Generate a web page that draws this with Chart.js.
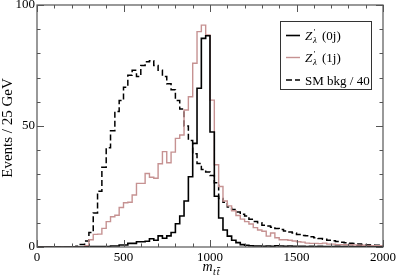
<!DOCTYPE html>
<html><head><meta charset="utf-8">
<script src="https://cdn.jsdelivr.net/npm/chart.js@4/dist/chart.umd.min.js"></script>
<style>html,body{margin:0;padding:0;background:#fff;}#wrap{width:398px;height:278px;position:relative;}</style>
</head><body><div id="wrap"><canvas id="c" width="398" height="278"></canvas></div>
<script>
const binEdges = [0,25,50,75,100,125,150,175,200,225,250,275,300,325,350,375,400,425,450,475,500,525,550,575,600,625,650,675,700,725,750,775,800,825,850,875,900,925,950,975,1000,1025,1050,1075,1100,1125,1150,1175,1200,1225,1250,1275,1300,1325,1350,1375,1400,1425,1450,1475,1500,1525,1550,1575,1600,1625,1650,1675,1700,1725,1750,1775,1800,1825,1850,1875,1900,1925,1950,1975,2000];
const zeroJet = [0,0,0,0,0,0,0,0,0,0,0,0,0.1,0.2,0.2,0.2,0.2,0.2,0.4,0.4,0.8,0.8,1.5,1.5,2.2,2.2,
 2.4,3.4,2.8,4.6,3.6,4.6,6.0,9.6,12.8,19,29,42.8,65.6,86.2,87.3,47.5,21,12,7,4.5,2.8,1.8,1.0,0.7,0.5,
 0.4,0.4,0.3,0.4,0.3,0.5,0.4,0.3,0.4,0.3,
 0.3,0.3,0.2,0.3,0.2,0.3,0.2,0.2,0.2,0.3,0.2,0.2,0.2,0.1,0.2,0.1,0.2,0.1,0.1];
const oneJet = [0,0,0,0,0,0,0,0,0,0,0,0,
 0.5,3,5.2,5.3,7.7,10.5,12.5,13.1,16.3,18.3,18.5,21.5,26.3,26.3,
 30.4,28.8,28.4,34.4,39.4,34.8,39.2,44.9,46.3,56.6,62.1,75.9,89,91.7,87.6,60.7,
 34,25,19,17,15,13,11.5,10.5,9.5,8,7,6.5,4.5,5.8,3.8,3,3,2.8,
 2.5,2.2,2,1.6,1.5,1.5,1.4,1.6,1.2,1.2,1.0,1.0,0.9,0.9,0.8,0.7,0.7,0.6,0.5,0.5];
const smBkg = [0,0,0,0,0,0,0,0,0,0,
 0.3,1.0,2.5,6,14,23,33,41,48,56,60.5,66,71,73,70.5,75,76.5,77,
 75,73,70.5,67.5,65,60.5,57,50,44,38.5,34.5,32,31,29.5,26.5,20,18.5,16.5,15.5,14.5,
 13.5,12.8,11.5,10.5,10,9,8.7,8.2,7.6,7.2,6.6,6.2,5.8,5.2,4.8,4.6,4.2,3.8,3.5,3.2,2.8,2.6,2.3,2.0,1.8,1.6,1.4,1.2,1.0,0.9,0.8,0.7];
const xTicks = [0,500,1000,1500,2000];
const yTicks = [0,50,100];
const seriesTags = ["(0j)", "(1j)", "SM bkg / 40"];
const xTitle = "m";
const yTitle = "Events / 25 GeV";

function toSteps(vals){
  const pts = vals.map((v,i)=>({x:binEdges[i], y:v}));
  pts.push({x:binEdges[vals.length], y:vals[vals.length-1]});
  return pts;
}
const SERIF = "'Liberation Serif','DejaVu Serif',serif";
const PINK = 'rgb(198,146,146)';

const decor = {
  id:'decor',
  afterDatasetsDraw(chart){
    const ctx = chart.ctx, a = chart.chartArea, xs = chart.scales.x, ys = chart.scales.y;
    ctx.save();
    ctx.strokeStyle = '#555'; ctx.lineWidth = 1.2;
    ctx.strokeRect(a.left, a.top, a.right-a.left, a.bottom-a.top);
    ctx.lineWidth = 1; ctx.strokeStyle='#555';
    ctx.beginPath();
    for (let v=0; v<=2000; v+=100){
      const p = Math.round(xs.getPixelForValue(v))+0.5, L = (v%500===0)?7:3.5;
      ctx.moveTo(p,a.bottom); ctx.lineTo(p,a.bottom-L);
      ctx.moveTo(p,a.top); ctx.lineTo(p,a.top+L);
    }
    for (let v=0; v<=100; v+=10){
      const p = Math.round(ys.getPixelForValue(v))+0.5, L = (v%50===0)?7:3.5;
      ctx.moveTo(a.left,p); ctx.lineTo(a.left+L,p);
      ctx.moveTo(a.right,p); ctx.lineTo(a.right-L,p);
    }
    ctx.stroke();
    // legend
    const bx=280.5, by=21.5, bw=91, bh=68;
    ctx.fillStyle='#fff'; ctx.fillRect(bx,by,bw,bh);
    ctx.strokeStyle='#333'; ctx.lineWidth=1; ctx.strokeRect(bx,by,bw,bh);
    const rows=[35.5,57.5,80];
    chart.data.datasets.forEach((ds,i)=>{
      const y=rows[i];
      ctx.strokeStyle=ds.borderColor; ctx.lineWidth=ds.borderWidth;
      ctx.setLineDash(ds.borderDash||[]);
      ctx.beginPath(); ctx.moveTo(286,y); ctx.lineTo(300,y); ctx.stroke();
      ctx.setLineDash([]);
      ctx.fillStyle='#000'; ctx.textBaseline='alphabetic'; ctx.textAlign='left';
      const base=y+4.5;
      if (i<2){
        ctx.font='italic 13px '+SERIF; ctx.fillText('Z',305,base);
        ctx.font='9px '+SERIF; ctx.fillText('\u2032',313.5,base-5);
        ctx.font='italic 9px '+SERIF; ctx.fillText('\u03bb',313,base+3);
        ctx.font='13px '+SERIF; ctx.fillText(seriesTags[i],322,base);
      } else {
        ctx.font='13px '+SERIF; ctx.fillText(seriesTags[i],305,base);
      }
    });
    // y title
    ctx.save();
    ctx.translate(8,128); ctx.rotate(-Math.PI/2);
    ctx.font='15px '+SERIF; ctx.fillStyle='#000'; ctx.textAlign='center'; ctx.textBaseline='middle';
    ctx.fillText(yTitle,0,0);
    ctx.restore();
    // x title m_{t tbar}
    const mx = 202.5, my = 271;
    ctx.fillStyle='#000'; ctx.textAlign='left'; ctx.textBaseline='alphabetic';
    ctx.font='italic 14px '+SERIF; ctx.fillText(xTitle,mx,my);
    const mw = ctx.measureText(xTitle).width;
    ctx.font='italic 10px '+SERIF;
    const tw = ctx.measureText('t').width;
    const sx = mx+mw+0.5, sy = my+4;
    ctx.fillText('t',sx,sy);
    ctx.fillText('t',sx+tw+0.8,sy);
    ctx.strokeStyle='#000'; ctx.lineWidth=0.8;
    ctx.beginPath(); ctx.moveTo(sx+tw+1.2,sy-7.5); ctx.lineTo(sx+2*tw+1.6,sy-7.5); ctx.stroke();
    ctx.restore();
  }
};

new Chart(document.getElementById('c'), {
  type:'line',
  data:{ datasets:[
    {label:'0j', data:toSteps(zeroJet), stepped:'after', borderColor:'#000', borderWidth:1.6, pointRadius:0, fill:false},
    {label:'1j', data:toSteps(oneJet), stepped:'after', borderColor:PINK, borderWidth:1.4, pointRadius:0, fill:false},
    {label:'bkg', data:toSteps(smBkg), stepped:'after', borderColor:'#000', borderWidth:1.5, borderDash:[6,3], pointRadius:0, fill:false}
  ]},
  options:{
    responsive:false, animation:false, devicePixelRatio:1,
    layout:{padding:{left:0,top:5,right:15,bottom:0}},
    plugins:{legend:{display:false}, tooltip:{enabled:false}},
    scales:{
      x:{type:'linear', min:0, max:2000,
        afterBuildTicks(s){ s.ticks = xTicks.map(v=>({value:v})); },
        afterFit(s){ s.height=31; s.paddingLeft=0; s.paddingRight=0; },
        grid:{display:false, drawTicks:false}, border:{display:false},
        ticks:{font:{family:SERIF,size:13}, color:'#000', padding:3, maxRotation:0, autoSkip:false,
          callback:(v)=>String(v)}
      },
      y:{min:0, max:100,
        afterBuildTicks(s){ s.ticks = yTicks.map(v=>({value:v})); },
        afterFit(s){ s.width=37; s.paddingTop=0; s.paddingBottom=0; },
        grid:{display:false, drawTicks:false}, border:{display:false},
        ticks:{font:{family:SERIF,size:13}, color:'#000', padding:2, autoSkip:false,
          callback:(v)=>String(v)}
      }
    }
  },
  plugins:[decor]
});
</script></body></html>
